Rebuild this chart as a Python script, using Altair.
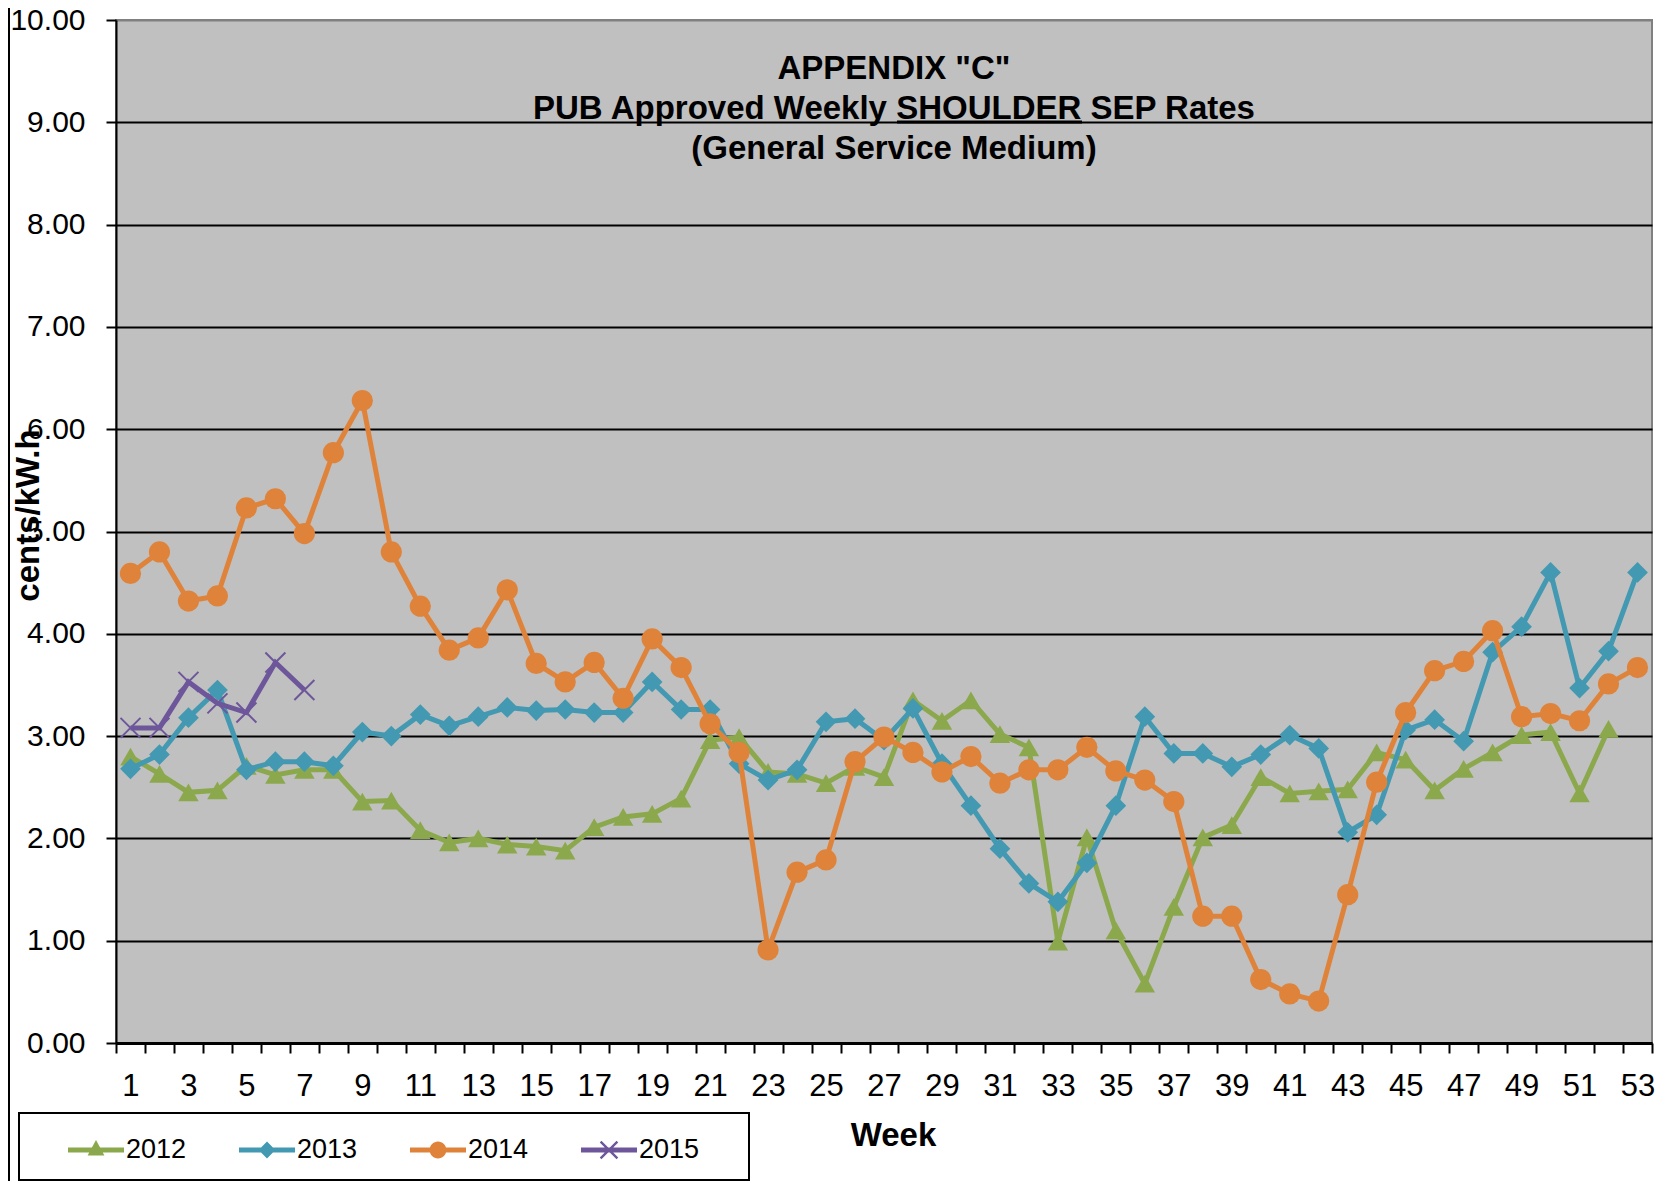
import altair as alt
import pandas as pd

# ---------------- data ----------------
weeks = list(range(1, 54))
years = ["2012", "2013", "2014", "2015"]

rates_2012 = [2.80, 2.63, 2.45, 2.47, 2.71, 2.62, 2.67, 2.67, 2.36, 2.37,
              2.08, 1.96, 2.00, 1.94, 1.92, 1.88, 2.11, 2.21, 2.24, 2.39,
              2.96, 2.99, 2.65, 2.63, 2.54, 2.70, 2.60, 3.35, 3.15, 3.35,
              3.02, 2.89, 0.99, 2.01, 1.10, 0.58, 1.33, 2.01, 2.13, 2.60,
              2.44, 2.46, 2.48, 2.84, 2.77, 2.47, 2.68, 2.84, 3.01, 3.04,
              2.44, 3.07]
rates_2013 = [2.68, 2.82, 3.18, 3.45, 2.67, 2.75, 2.75, 2.71, 3.04, 3.00,
              3.21, 3.10, 3.19, 3.28, 3.25, 3.26, 3.23, 3.23, 3.53, 3.26,
              3.26, 2.73, 2.57, 2.67, 3.14, 3.17, 2.96, 3.27, 2.73, 2.32,
              1.90, 1.56, 1.38, 1.76, 2.32, 3.19, 2.83, 2.83, 2.70, 2.82,
              3.01, 2.88, 2.06, 2.23, 3.06, 3.16, 2.95, 3.82, 4.07, 4.60,
              3.47, 3.83, 4.60]
rates_2014 = [4.59, 4.80, 4.32, 4.37, 5.23, 5.32, 4.98, 5.77, 6.28, 4.80,
              4.27, 3.84, 3.96, 4.43, 3.71, 3.53, 3.72, 3.37, 3.95, 3.67,
              3.12, 2.84, 0.91, 1.67, 1.79, 2.75, 2.99, 2.84, 2.65, 2.80,
              2.54, 2.67, 2.67, 2.89, 2.66, 2.57, 2.36, 1.24, 1.24, 0.62,
              0.48, 0.41, 1.45, 2.55, 3.23, 3.64, 3.73, 4.03, 3.19, 3.22,
              3.15, 3.51, 3.67]
rates_2015 = [3.08, 3.08, 3.53, 3.32, 3.23, 3.72, 3.45]

y_ticks = list(range(0, 11))
title_lines = ['APPENDIX "C"', "PUB Approved Weekly SHOULDER SEP Rates",
               "(General Service Medium)"]

colors = ["#8BA94C", "#4299B1", "#DF833B", "#6E569B"]

rows = []
for yr, vals in zip(years, [rates_2012, rates_2013, rates_2014, rates_2015]):
    for w, v in zip(weeks, vals):
        rows.append({"week": w, "rate": v, "year": yr})
df = pd.DataFrame(rows)

FONT = "Liberation Sans"

# ---------------- encodings ----------------
x_enc = alt.X(
    "week:O",
    scale=alt.Scale(type="band", domain=weeks, paddingInner=0, paddingOuter=0),
    axis=alt.Axis(
        title="Week", tickBand="extent", labelAngle=0,
        labelExpr="datum.value % 2 == 1 ? datum.label : ''",
        labelOverlap=False, labelFontSize=31, labelFont=FONT, labelColor="black",
        labelPadding=18, tickColor="black", tickSize=10, tickWidth=2,
        domainColor="black", domainWidth=3, grid=False,
        titleFontSize=33, titleFontWeight="bold", titleFont=FONT, titleColor="black",
        titleX=777, titleY=92, titleAlign="center", titleBaseline="middle",
    ),
)
y_enc = alt.Y(
    "rate:Q",
    scale=alt.Scale(domain=[0, 10], nice=False, zero=True),
    axis=alt.Axis(
        title="cents/kW.h", values=y_ticks, format=".2f",
        labelFontSize=30, labelFont=FONT, labelColor="black", labelPadding=21,
        tickColor="black", tickSize=10, tickWidth=2,
        domainColor="black", domainWidth=2,
        grid=True, gridWidth=2,
        gridColor={"condition": {"test": "datum.value >= 10", "value": "#808080"},
                   "value": "black"},
        titleFontSize=33, titleFontWeight="bold", titleFont=FONT, titleColor="black",
        titleX=-88, titleY=495, titleAngle=270, titleAlign="center",
        titleBaseline="middle",
    ),
)

marker_shapes = ["triangle-up", "diamond", "circle", "M-1,-1L1,1M-1,1L1,-1"]
marker_sizes = [420, 430, 450, 400]
marker_filled = [True, True, True, False]

deco = pd.DataFrame({"k": [0]})
# white legend box (drawn below the legend entries)
legend_box = alt.Chart(deco).mark_rect(fill="white", stroke="black", strokeWidth=2).encode(
    x=alt.value(-97), x2=alt.value(633), y=alt.value(1093), y2=alt.value(1160))

layers = [legend_box]
for yr, col, shp, sz, fl in zip(years, colors, marker_shapes, marker_sizes, marker_filled):
    base = alt.Chart(df).transform_filter(alt.datum.year == yr)
    layers.append(base.mark_line(color=col, strokeWidth=5).encode(x=x_enc, y=y_enc))
    if fl:
        pts = base.mark_point(shape=shp, filled=True, color=col, size=sz, opacity=1)
    else:
        pts = base.mark_point(shape=shp, filled=False, color=col, size=sz,
                              opacity=1, strokeWidth=2)
    layers.append(pts.encode(x=x_enc, y=y_enc))

# legend symbols: line + marker (custom paths, filled)
line_p = "M-1,-0.085H1V0.085H-1Z"
legend_paths = [
    line_p + "M0,-0.36L0.3,0.2L-0.3,0.2Z",
    line_p + "M0,-0.3L0.3,0L0,0.3L-0.3,0Z",
    line_p + "M-0.3,0A0.3,0.3 0 1,1 0.3,0A0.3,0.3 0 1,1 -0.3,0Z",
    line_p + "M-0.33,-0.27L-0.27,-0.33L0.33,0.27L0.27,0.33Z"
             "M-0.27,0.33L-0.33,0.27L0.27,-0.33L0.33,-0.27Z",
]
leg = alt.Legend(
    title=None, orient="none", legendX=-48, legendY=1102, direction="horizontal",
    padding=0, symbolSize=3136, symbolStrokeWidth=0, symbolLimit=10,
    labelFontSize=27, labelFont=FONT, labelColor="black", labelOffset=2,
    columnPadding=52,
)
legend_layer = alt.Chart(df).transform_filter("false").mark_point(filled=True, opacity=1).encode(
    x=x_enc, y=y_enc,
    color=alt.Color("year:N", scale=alt.Scale(domain=years, range=colors), legend=leg),
    shape=alt.Shape("year:N", scale=alt.Scale(domain=years, range=legend_paths), legend=leg),
)

underline = alt.Chart(deco).mark_rule(color="black", strokeWidth=3).encode(
    x=alt.value(781), x2=alt.value(966), y=alt.value(102))
left_border = alt.Chart(deco).mark_rule(color="black", strokeWidth=2).encode(
    x=alt.value(-107), y=alt.value(-12), y2=alt.value(1161))

chart = alt.layer(*layers, legend_layer, underline, left_border).properties(
    width=1536, height=1023,
    padding={"left": 108, "top": 12, "right": 6, "bottom": 138},
    autosize=alt.AutoSizeParams(type="none"),
    title=alt.TitleParams(
        text=title_lines, anchor="middle", frame="group", fontSize=33,
        fontWeight="bold", font=FONT, color="black", lineHeight=40,
        baseline="top", offset=-161, dx=10,
    ),
).configure(font=FONT, background="white").configure_view(
    fill="#C0C0C0", stroke="#808080", strokeWidth=2
)

chart.save("out.html", embed_options={"renderer": "svg", "actions": False})
